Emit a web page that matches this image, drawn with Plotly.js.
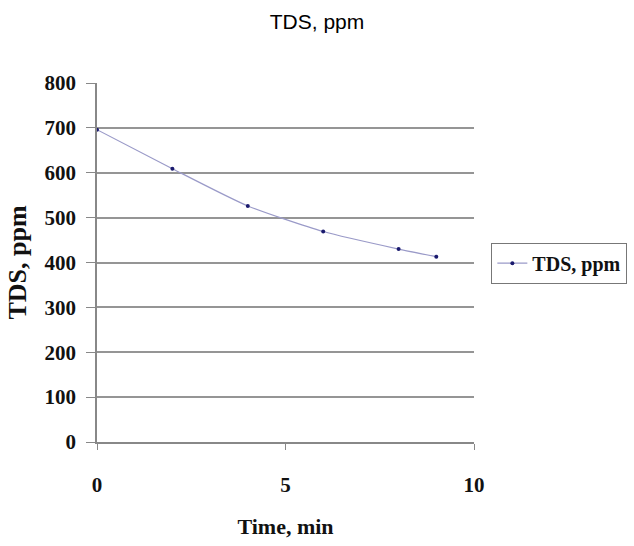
<!DOCTYPE html>
<html><head><meta charset="utf-8">
<script src="https://cdn.plot.ly/plotly-3.0.1.min.js"></script>
<style>body{margin:0;background:#fff}#c{width:634px;height:546px}</style>
</head><body><div id="c"></div>
<script>
const timeMin = [0, 2, 4, 6, 8, 9];
const tdsPpm = [696, 609, 526, 469, 430, 413];
const seriesName = "TDS, ppm";
const chartTitle = "TDS, ppm";
const xTitle = "Time, min";
const yTitle = "TDS, ppm";

const serif = "Liberation Serif, Times New Roman, serif";
const trace = {
  x: timeMin, y: tdsPpm, name: seriesName, type: "scatter", mode: "lines+markers",
  line: {color: "#9a9ac8", width: 1.2, shape: "spline", smoothing: 0.6},
  marker: {color: "#1a1a6e", size: 4}
};
const layout = {
  width: 634, height: 546,
  margin: {l: 97, r: 160, t: 83, b: 104},
  paper_bgcolor: "#fff", plot_bgcolor: "#fff",
  title: {text: chartTitle, x: 0.5, xanchor: "center", y: 0.96, yanchor: "middle",
          font: {family: "Liberation Sans, Arial, sans-serif", size: 21, color: "#000"}},
  xaxis: {range: [0, 10], tickvals: [0, 5, 10], ticks: "outside", ticklen: 6, tickcolor: "#888",
          showline: true, linecolor: "#888", linewidth: 1.5, showgrid: false, zeroline: false,
          ticklabelstandoff: 17,
          tickfont: {family: serif, size: 21, color: "#111", weight: "bold"},
          title: {text: "<b>" + xTitle + "</b>", standoff: 23, font: {family: serif, size: 22, color: "#111"}}},
  yaxis: {range: [0, 800], dtick: 100, ticks: "outside", ticklen: 9, tickcolor: "#888",
          showline: true, linecolor: "#888", linewidth: 1.5, showgrid: true, gridcolor: "#959595", gridwidth: 1.5,
          zeroline: false, ticklabelstandoff: 6,
          tickfont: {family: serif, size: 21, color: "#111", weight: "bold"},
          title: {text: "<b>" + yTitle + "</b>", standoff: 10, font: {family: serif, size: 26, color: "#111"}}},
  showlegend: true,
  legend: {xref: "container", yref: "container", x: 0.775, xanchor: "left", y: 0.518, yanchor: "middle",
           bordercolor: "#777", borderwidth: 1,
           font: {family: serif, size: 20, color: "#111", weight: "bold"}, itemwidth: 30}
};
Plotly.newPlot("c", [trace], layout, {displayModeBar: false});
</script></body></html>
